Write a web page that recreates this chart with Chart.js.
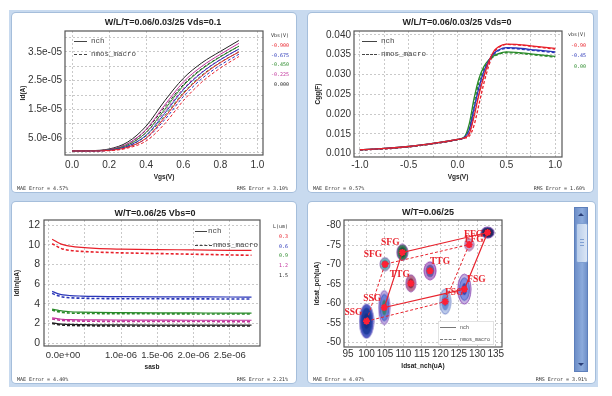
<!DOCTYPE html>
<html>
<head>
<meta charset="utf-8">
<script src="https://cdn.jsdelivr.net/npm/chart.js@4.4.1/dist/chart.umd.min.js"></script>
<style>
  body { margin: 0; width: 612px; height: 396px; background: #fff; position: relative; overflow: hidden; font-family: "Liberation Sans", Arial, sans-serif; }
  .bg { position: absolute; left: 9px; top: 10px; width: 589px; height: 377px; background: #c8daef; }
  .panel { position: absolute; background: #fff; border-radius: 4px; box-shadow: 0 0 0 1px #a5bedb; }
  .panel canvas { position: absolute; left: 0; top: 0; }
  .title { position: absolute; transform: translateX(-50%); white-space: nowrap; font: bold 9px "Liberation Sans", Arial, sans-serif; color: #222; }
  .foot { position: absolute; bottom: 1px; font: 5px "DejaVu Sans Mono", monospace; color: #333; white-space: nowrap; }
  .side { position: absolute; text-align: right; font: 5px "DejaVu Sans Mono", monospace; color: #333; }
  .lg { position: absolute; font: 7.5px "Liberation Mono", monospace; color: #444; white-space: nowrap; line-height: 10px; }
  .sw { display: inline-block; vertical-align: middle; border-top: 1px solid #444; margin-right: 4px; }
  .sw.d { border-top-style: dashed; }
  .scroll { position: absolute; left: 266px; top: 5px; width: 14px; height: 165px; background: linear-gradient(90deg, #6d8ec8, #8cabdc 60%, #6f90c9); border: 1px solid #5d7fbb; box-sizing: border-box; }
  .thumb { position: absolute; left: 1px; top: 15px; width: 10px; height: 38px; background: linear-gradient(90deg, #b9cdea, #dbe6f5); border: 1px solid #7f9fd2; border-radius: 2px; }
  .grip { position: absolute; left: 3px; width: 4px; border-top: 1px solid #7f9fd2; }
  .up, .down { position: absolute; left: 3px; width: 0; height: 0; border-left: 3px solid transparent; border-right: 3px solid transparent; }
  .up { top: 5px; border-bottom: 3px solid #2a3f78; }
  .down { bottom: 5px; border-top: 3px solid #2a3f78; }
</style>
</head>
<body>
<div class="bg"></div>

<div class="panel" style="left:12px;top:13px;width:284px;height:179px">
  <canvas id="c1" width="284" height="179"></canvas>
  <div class="title" style="left:151px;top:4px">W/L/T=0.06/0.03/25 Vds=0.1</div>
  <div class="lg" style="left:62px;top:23px"><i class="sw" style="width:13px"></i>nch</div>
  <div class="lg" style="left:62px;top:36px"><i class="sw d" style="width:13px"></i>nmos_macro</div>
  <div class="side" style="right:7px;top:18px;line-height:9.8px">Vbs(V)<br><span style="color:#e8202a">-0.900</span><br><span style="color:#2a36b8">-0.675</span><br><span style="color:#2a8a2a">-0.450</span><br><span style="color:#c0309a">-0.225</span><br><span style="color:#222">0.000</span></div>
  <div class="foot" style="left:5px">MAE Error = 4.57%</div>
  <div class="foot" style="right:8px">RMS Error = 3.10%</div>
</div>

<div class="panel" style="left:308px;top:13px;width:285px;height:179px">
  <canvas id="c2" width="285" height="179"></canvas>
  <div class="title" style="left:149px;top:4px">W/L/T=0.06/0.03/25 Vds=0</div>
  <div class="lg" style="left:54px;top:23px"><i class="sw" style="width:15px"></i>nch</div>
  <div class="lg" style="left:54px;top:36px"><i class="sw d" style="width:15px"></i>nmos_macro</div>
  <div class="side" style="right:7px;top:16px;line-height:10.5px">vbs(V)<br><span style="color:#e8202a">-0.90</span><br><span style="color:#2a36b8">-0.45</span><br><span style="color:#2a8a2a">0.00</span></div>
  <div class="foot" style="left:5px">MAE Error = 0.57%</div>
  <div class="foot" style="right:8px">RMS Error = 1.60%</div>
</div>

<div class="panel" style="left:12px;top:202px;width:284px;height:181px">
  <canvas id="c3" width="284" height="181"></canvas>
  <div class="title" style="left:143px;top:6px">W/T=0.06/25 Vbs=0</div>
  <div class="lg" style="left:183px;top:24px"><i class="sw" style="width:12px;margin-right:1px"></i>nch</div>
  <div class="lg" style="left:183px;top:38px"><i class="sw d" style="width:17px;margin-right:1px"></i>nmos_macro</div>
  <div class="side" style="right:8px;top:20px;line-height:9.8px">L(um)<br><span style="color:#e8202a">0.3</span><br><span style="color:#2a36b8">0.6</span><br><span style="color:#2a8a2a">0.9</span><br><span style="color:#c0309a">1.2</span><br><span style="color:#222">1.5</span></div>
  <div class="foot" style="left:5px">MAE Error = 4.40%</div>
  <div class="foot" style="right:8px">RMS Error = 2.21%</div>
</div>

<div class="panel" style="left:308px;top:202px;width:287px;height:181px">
  <canvas id="c4" width="287" height="181"></canvas>
  <div class="title" style="left:120px;top:5px">W/T=0.06/25</div>
  <div style="position:absolute;left:130px;top:119px;width:54px;height:22px;border:1px solid #e2e2e2;background:#fff"></div>
  <div class="lg" style="left:132px;top:120px;font-size:5px;line-height:12px"><i class="sw" style="width:16px;border-color:#777"></i>nch<br><i class="sw d" style="width:16px;border-color:#777"></i>nmos_macro</div>
  <div class="scroll"><div class="up"></div><div class="thumb"><div class="grip" style="top:15px"></div><div class="grip" style="top:18px"></div><div class="grip" style="top:21px"></div></div><div class="down"></div></div>
  <div class="foot" style="left:5px">MAE Error = 4.07%</div>
  <div class="foot" style="right:8px">RMS Error = 3.91%</div>
</div>

<script>
// ---- Id vs Vgs (Vds=0.1), Id in uA, one row per Vbs: -0.900, -0.675, -0.450, -0.225, 0.000
const vgsId = [0, 0.1, 0.2, 0.3, 0.4, 0.5, 0.6, 0.7, 0.8, 0.9]
const idNch = [
  [0.5, 0.5, 0.7, 1.8, 5.0, 12.2, 20.4, 26.6, 31.3, 35.0],
  [0.5, 0.5, 0.8, 2.2, 6.0, 13.6, 21.8, 27.8, 32.3, 36.0],
  [0.5, 0.55, 0.9, 2.6, 7.0, 15.0, 23.2, 29.0, 33.3, 37.0],
  [0.5, 0.55, 1.0, 3.0, 8.0, 16.5, 24.5, 30.0, 34.2, 38.0],
  [0.5, 0.6, 1.2, 3.6, 9.2, 18.0, 25.8, 31.2, 35.2, 39.0],
]
const idMacro = [
  [0.5, 0.5, 0.6, 1.5, 4.0, 10.0, 18.0, 24.5, 29.4, 33.4],
  [0.5, 0.5, 0.7, 1.8, 4.9, 11.4, 19.4, 25.7, 30.4, 34.2],
  [0.5, 0.5, 0.8, 2.1, 5.8, 12.8, 20.8, 26.9, 31.4, 35.0],
  [0.5, 0.5, 0.9, 2.5, 6.8, 14.3, 22.2, 28.0, 32.4, 36.0],
  [0.5, 0.55, 1.0, 3.0, 7.8, 15.8, 23.6, 29.2, 33.4, 37.0],
]
const idColors = ['#e8202a', '#2a36b8', '#2a8a2a', '#c0309a', '#222222']

// ---- Cgg vs Vgs (Vds=0), rows per Vbs: -0.90, -0.45, 0.00
const vgsCgg = [-1.0, -0.75, -0.5, -0.25, 0.0, 0.07, 0.12, 0.17, 0.22, 0.27, 0.32, 0.37, 0.42, 0.5, 0.6, 0.8, 1.0]
const cggNch = [
  [0.0110, 0.0113, 0.0118, 0.0126, 0.0136, 0.0140, 0.0150, 0.0195, 0.0250, 0.0295, 0.0332, 0.0358, 0.0370, 0.0377, 0.0376, 0.0371, 0.0366],
  [0.0110, 0.0113, 0.0118, 0.0126, 0.0136, 0.0141, 0.0160, 0.0215, 0.0268, 0.0308, 0.0335, 0.0353, 0.0362, 0.0368, 0.0367, 0.0362, 0.0357],
  [0.0110, 0.0113, 0.0118, 0.0126, 0.0136, 0.0142, 0.0175, 0.0240, 0.0290, 0.0320, 0.0337, 0.0347, 0.0353, 0.0357, 0.0356, 0.0351, 0.0346],
]
const cggMacro = [
  [0.0109, 0.0112, 0.0117, 0.0125, 0.0135, 0.0139, 0.0144, 0.0172, 0.0225, 0.0278, 0.0322, 0.0354, 0.0368, 0.0376, 0.0375, 0.0370, 0.0364],
  [0.0109, 0.0112, 0.0117, 0.0125, 0.0135, 0.0140, 0.0152, 0.0200, 0.0255, 0.0298, 0.0330, 0.0350, 0.0360, 0.0366, 0.0365, 0.0360, 0.0355],
  [0.0109, 0.0112, 0.0117, 0.0125, 0.0135, 0.0141, 0.0165, 0.0228, 0.0280, 0.0315, 0.0334, 0.0345, 0.0351, 0.0355, 0.0354, 0.0349, 0.0344],
]
const cggColors = ['#e8202a', '#2a36b8', '#2a8a2a']

// ---- Idlin vs sasb (units of 1e-6), rows per L: 0.3, 0.6, 0.9, 1.2, 1.5 um
const sasb = [0.05, 0.1, 0.15, 0.2, 0.3, 0.45, 0.65, 1.0, 1.5, 2.0, 2.5, 2.8]
const idlinNch = [
  [10.55, 10.35, 10.15, 10.0, 9.85, 9.72, 9.62, 9.55, 9.5, 9.47, 9.43, 9.42],
  [5.25, 5.1, 4.98, 4.9, 4.83, 4.78, 4.74, 4.72, 4.7, 4.69, 4.68, 4.67],
  [3.45, 3.37, 3.3, 3.24, 3.18, 3.14, 3.11, 3.09, 3.07, 3.06, 3.05, 3.05],
  [2.55, 2.5, 2.45, 2.41, 2.38, 2.36, 2.35, 2.34, 2.33, 2.32, 2.32, 2.32],
  [2.05, 2.0, 1.95, 1.92, 1.89, 1.87, 1.85, 1.84, 1.83, 1.82, 1.82, 1.82],
]
const idlinMacro = [
  [10.1, 9.9, 9.7, 9.55, 9.42, 9.32, 9.25, 9.17, 9.1, 9.03, 8.96, 8.92],
  [5.05, 4.9, 4.78, 4.68, 4.6, 4.56, 4.53, 4.51, 4.5, 4.49, 4.48, 4.47],
  [3.35, 3.25, 3.17, 3.1, 3.05, 3.02, 3.0, 2.98, 2.97, 2.96, 2.95, 2.95],
  [2.45, 2.39, 2.33, 2.29, 2.25, 2.23, 2.21, 2.2, 2.19, 2.19, 2.18, 2.18],
  [1.98, 1.92, 1.86, 1.82, 1.79, 1.77, 1.75, 1.74, 1.74, 1.73, 1.73, 1.73],
]

// ---- Idsat corners (uA)
const corners = ['SSG', 'FSG', 'FFG', 'SFG', 'TTG']
const nchIdsatN = [104.8, 126.5, 132.8, 109.7, 117.2]
const nchIdsatP = [-59.0, -63.7, -78.2, -73.1, -68.4]
const macroIdsatN = [100.0, 121.3, 127.8, 105.0, 112.0]
const macroIdsatP = [-55.5, -60.5, -75.1, -70.1, -65.2]

Chart.defaults.font.family = '"Liberation Sans", Arial, sans-serif'
Chart.defaults.color = '#333'

const sci = (v) => v.toExponential(1).replace(/e([+-])(\d)$/, 'e$10$2')

const frame = {
  id: 'frame',
  afterDatasetsDraw(chart) {
    const { ctx, chartArea: a } = chart
    ctx.save()
    ctx.strokeStyle = '#555'
    ctx.lineWidth = 1.2
    ctx.strokeRect(a.left, a.top, a.right - a.left, a.bottom - a.top)
    ctx.restore()
  },
}

function scale(s, horizontal) {
  return {
    type: 'linear',
    min: s.min,
    max: s.max,
    reverse: !!s.reverse,
    afterBuildTicks: (a) => { a.ticks = s.ticks.map((v) => ({ value: v })) },
    afterFit: (a) => { if (horizontal) a.height = s.size; else a.width = s.size },
    grid: { color: '#c9c9c9', drawTicks: false },
    border: { display: false, dash: [2, 2] },
    ticks: { color: '#333', font: { size: s.font || 10 }, padding: s.pad, autoSkip: false, maxRotation: 0, callback: s.fmt },
    title: { display: true, text: s.title, color: '#222', font: { size: 6.5, weight: 'bold' }, padding: s.tpad },
  }
}

function curve(xs, ys, color, dashed, width) {
  return {
    data: xs.map((x, i) => ({ x, y: ys[i] })),
    borderColor: color,
    borderWidth: width,
    borderDash: dashed ? [3, 2] : [],
    pointRadius: 0,
    showLine: true,
    cubicInterpolationMode: 'monotone',
  }
}

function makeChart(id, datasets, pad, x, y, plugins) {
  return new Chart(document.getElementById(id), {
    type: 'scatter',
    data: { datasets },
    options: {
      responsive: false,
      animation: false,
      devicePixelRatio: 1,
      layout: { padding: pad },
      plugins: { legend: { display: false }, tooltip: { enabled: false } },
      scales: { x: scale(x, true), y: scale(y, false) },
    },
    plugins: [frame].concat(plugins || []),
  })
}

// panel 1
makeChart('c1',
  idNch.map((r, i) => curve(vgsId, r, idColors[i], false, 1))
    .concat(idMacro.map((r, i) => curve(vgsId, r, idColors[i], true, 1))),
  { left: 3, top: 18, right: 33, bottom: 10 },
  { min: -0.038, max: 1.03, ticks: [0, 0.2, 0.4, 0.6, 0.8, 1.0], fmt: (v) => v.toFixed(1), size: 27, pad: 4, title: 'Vgs(V)', tpad: { top: 0, bottom: 1 } },
  { min: -0.9, max: 42.3, ticks: [0, 5, 10, 15, 20, 25, 30, 35, 40], fmt: (v) => (v % 10 === 5 ? sci(v * 1e-6) : ''), size: 50, pad: 3, title: 'Id(A)', tpad: { top: 4, bottom: 0 } })

// panel 2
makeChart('c2',
  cggNch.map((r, i) => curve(vgsCgg, r, cggColors[i], false, 1.3))
    .concat(cggMacro.map((r, i) => curve(vgsCgg, r, cggColors[i], true, 1.3))),
  { left: 3, top: 18, right: 31, bottom: 10 },
  { min: -1.06, max: 1.07, ticks: [-1, -0.75, -0.5, -0.25, 0, 0.25, 0.5, 0.75, 1], fmt: (v) => (Math.abs(v * 2 % 1) < 1e-9 ? v.toFixed(1) : ''), size: 25, pad: 2, title: 'Vgs(V)', tpad: { top: 0, bottom: 1 } },
  { min: 0.00914, max: 0.041, ticks: [0.010, 0.015, 0.020, 0.025, 0.030, 0.035, 0.040], fmt: (v) => v.toFixed(3), size: 43, pad: 3, title: 'Cgg(F)', tpad: { top: 3, bottom: 0 } })

// panel 3 (first label is kept inside the plot, 5.0e-07 is not labelled)
makeChart('c3',
  idlinNch.map((r, i) => curve(sasb, r, idColors[i], false, 1.2))
    .concat(idlinMacro.map((r, i) => curve(sasb, r, idColors[i], true, 1.6))),
  { left: 0, top: 18, right: 36, bottom: 11 },
  { min: -0.062, max: 2.917, ticks: [0, 0.5, 1, 1.5, 2, 2.5], fmt: (v) => (v === 0 ? '\u00a0'.repeat(11) + sci(0) : v === 0.5 ? '' : sci(v * 1e-6)), font: 9.5, size: 26, pad: 4, title: 'sasb', tpad: { top: 0, bottom: 1 } },
  { min: -0.3, max: 12.51, ticks: [0, 2, 4, 6, 8, 10, 12], fmt: (v) => String(v), font: 10.5, size: 32, pad: 4, title: 'Idlin(uA)', tpad: { top: 1, bottom: 0 } })

// panel 4: Monte Carlo clouds drawn as elliptical blobs
function blob(w, h, layers) {
  const c = document.createElement('canvas')
  c.width = w + 2
  c.height = h + 2
  const g = c.getContext('2d')
  layers.forEach(([k, fill, stroke]) => {
    g.beginPath()
    g.ellipse(c.width / 2, c.height / 2, (w / 2) * k, (h / 2) * k, 0, 0, Math.PI * 2)
    if (fill) { g.fillStyle = fill; g.fill() }
    if (stroke) { g.strokeStyle = stroke; g.lineWidth = 1; g.stroke() }
  })
  return c
}
const nchBlobs = [
  blob(11, 34, [[1, '#c0aee0', '#8c5fc0'], [0.78, '#6c7fd6', '#4a5cc4'], [0.45, '#3b7d74']]),
  blob(13, 30, [[1, '#c8b4e2', '#9050b8'], [0.75, '#7f8de0', '#5663c8'], [0.4, '#3a48b0']]),
  blob(13, 11, [[1, '#2a2e6a', '#7a4ab0'], [0.6, '#141838']]),
  blob(11, 16, [[1, '#3c7a5a', '#8a4ab0'], [0.65, '#1d5a3a']]),
  blob(12, 18, [[1, '#b88ad0', '#9a44b4'], [0.7, '#6d5aa8'], [0.4, '#3f7a5a']]),
]
const macroBlobs = [
  blob(14, 34, [[1, '#4a5cc0', '#6a5ac0'], [0.8, '#1f3c9e'], [0.45, '#173088']]),
  blob(11, 25, [[1, '#bccaea', '#7a8ccc'], [0.7, '#6f8ed2'], [0.35, '#4768be']]),
  blob(9, 12, [[1, '#d0a8cc', '#9a5a98'], [0.55, '#8a4a7a']]),
  blob(10, 13, [[1, '#78b4bc', '#8a6ab0'], [0.6, '#2a8494']]),
  blob(10, 17, [[1, '#b87090', '#9a5ab0'], [0.6, '#8a2a45']]),
]

const pts = (xs, ys, idx) => idx.map((i) => ({ x: xs[i], y: ys[i] }))
const loop = [0, 1, 2, 3, 0]
const all = [0, 1, 2, 3, 4]

const cornerLabels = {
  id: 'cornerLabels',
  afterDatasetsDraw(chart) {
    const { ctx, scales: { x, y } } = chart
    const nchOff = [[-12, -9], [12, -10], [-14, 2], [-12, -10], [10, -9]]
    const macroOff = [[-13, -9], [9, -9], [5, -5], [-12, -10], [-11, -9]]
    ctx.save()
    ctx.fillStyle = '#e8232d'
    ctx.font = 'bold 9.5px "Liberation Serif", serif'
    ctx.textAlign = 'center'
    ctx.textBaseline = 'middle'
    corners.forEach((name, i) => {
      ctx.fillText(name, x.getPixelForValue(macroIdsatN[i]) + macroOff[i][0], y.getPixelForValue(macroIdsatP[i]) + macroOff[i][1])
      ctx.fillText(name, x.getPixelForValue(nchIdsatN[i]) + nchOff[i][0], y.getPixelForValue(nchIdsatP[i]) + nchOff[i][1])
    })
    ctx.restore()
  },
}

makeChart('c4', [
  { data: pts(nchIdsatN, nchIdsatP, all), pointStyle: nchBlobs, pointRadius: 5, order: 4 },
  { data: pts(macroIdsatN, macroIdsatP, all), pointStyle: macroBlobs, pointRadius: 5, order: 4 },
  { data: pts(nchIdsatN, nchIdsatP, loop), showLine: true, borderColor: '#e8232d', borderWidth: 1.2, pointRadius: 0, order: 2 },
  { data: pts(macroIdsatN, macroIdsatP, loop), showLine: true, borderColor: '#e8232d', borderWidth: 1, borderDash: [3, 2], pointRadius: 0, order: 2 },
  { data: pts(nchIdsatN, nchIdsatP, all).concat(pts(macroIdsatN, macroIdsatP, all)), pointStyle: 'star', pointRadius: 3.5, borderColor: '#ff2035', backgroundColor: '#ff2035', borderWidth: 1.8, order: 1 },
],
  { left: 3, top: 18, right: 93, bottom: 11 },
  { min: 93.9, max: 136.7, ticks: [95, 100, 105, 110, 115, 120, 125, 130, 135], fmt: (v) => String(v), size: 25, pad: 1, title: 'Idsat_nch(uA)', tpad: { top: 0, bottom: 2 } },
  { min: -81.4, max: -48.9, reverse: true, ticks: [-80, -75, -70, -65, -60, -55, -50], fmt: (v) => String(v), size: 33, pad: 3, title: 'Idsat_pch(uA)', tpad: { top: 2, bottom: 0 } },
  [cornerLabels])
</script>
</body>
</html>
